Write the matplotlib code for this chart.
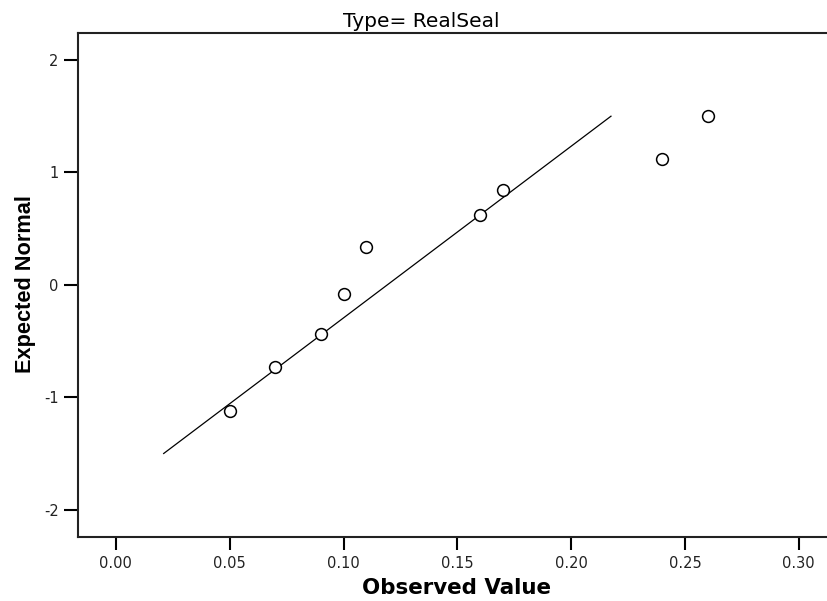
import matplotlib
matplotlib.use("Agg")
import matplotlib.pyplot as plt

observed = [0.05, 0.07, 0.09, 0.10, 0.11, 0.16, 0.17, 0.24, 0.26]
expected = [-1.12, -0.73, -0.44, -0.085, 0.335, 0.62, 0.84, 1.115, 1.505]
line_x = [0.021, 0.2175]
line_y = [-1.5, 1.5]
xticks = [0.00, 0.05, 0.10, 0.15, 0.20, 0.25, 0.30]
xtick_labels = ["0.00", "0.05", "0.10", "0.15", "0.20", "0.25", "0.30"]
yticks = [-2, -1, 0, 1, 2]
ytick_labels = ["-2", "-1", "0", "1", "2"]

plt.rcParams['font.family'] = ['DejaVu Sans']

W, H = 827, 601
fig = plt.figure(figsize=(W / 100, H / 100), dpi=100)
ax = fig.add_axes([78 / W, 1 - 536.7 / H, (W - 78) / W, (536.7 - 33) / H])

ax.plot(line_x, line_y, color='black', lw=0.9)
ax.plot(observed, expected, linestyle='none', marker='o', markersize=8.5,
        markerfacecolor='white', markeredgecolor='black', markeredgewidth=1.1)

ax.set_xlim(-0.01664, 0.3124)
ax.set_ylim(-2.24, 2.24)
ax.set_xticks(xticks)
ax.set_xticklabels(xtick_labels, fontsize=10.5, color='#222222')
ax.set_yticks(yticks)
ax.set_yticklabels(ytick_labels, fontsize=10.5, color='#222222')
ax.tick_params(axis='x', direction='out', length=9, width=1.5, pad=5)
ax.tick_params(axis='y', direction='out', length=10, width=1.5, pad=4)
for s in ['left', 'bottom', 'top']:
    ax.spines[s].set_linewidth(1.5)
    ax.spines[s].set_color('#222222')
ax.spines['right'].set_visible(False)

fig.text(421 / W, 1 - 27 / H, "Type= RealSeal", ha='center', va='baseline',
         fontsize=14.5)
fig.text(457 / W, 1 - 594 / H, "Observed Value", ha='center', va='baseline',
         fontsize=15.4, fontweight='bold')
fig.text(25.5 / W, 1 - 284 / H, "Expected Normal", ha='center', va='center',
         fontsize=15.7, fontweight='bold', rotation=90,
         family=['Liberation Sans', 'DejaVu Sans'])

fig.savefig("out.png", dpi=100)
